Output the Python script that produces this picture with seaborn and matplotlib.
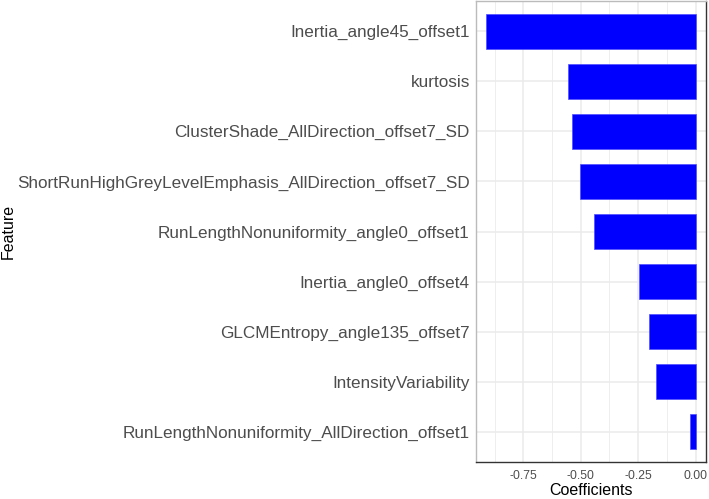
import matplotlib
matplotlib.use("Agg")
import matplotlib.pyplot as plt
import seaborn as sns
import pandas as pd

features = [
    "Inertia_angle45_offset1",
    "kurtosis",
    "ClusterShade_AllDirection_offset7_SD",
    "ShortRunHighGreyLevelEmphasis_AllDirection_offset7_SD",
    "RunLengthNonuniformity_angle0_offset1",
    "Inertia_angle0_offset4",
    "GLCMEntropy_angle135_offset7",
    "IntensityVariability",
    "RunLengthNonuniformity_AllDirection_offset1",
]
coefficients = [-0.910, -0.555, -0.537, -0.501, -0.444, -0.247, -0.202, -0.171, -0.025]
x_ticks = [-0.75, -0.50, -0.25, 0.00]
x_minor = [-0.875, -0.625, -0.375, -0.125]

df = pd.DataFrame({"Feature": features, "Coefficients": coefficients})

sns.set_theme(style="white")
plt.rcParams["font.family"] = ["Liberation Sans", "DejaVu Sans"]

fig = plt.figure(figsize=(7.09, 4.99), dpi=100)
ax = fig.add_axes([0.6714, 0.0741, 0.3244, 0.9239])

sns.barplot(data=df, x="Coefficients", y="Feature", order=features, orient="h",
            color="#0000FF", saturation=1, width=0.7, edgecolor="#4D4DFF",
            linewidth=0.5, ax=ax, zorder=2)

# ggplot-ish expansion of 5%
lo, hi = min(coefficients + [0]), max(coefficients + [0])
pad = (hi - lo) * 0.05
ax.set_xlim(lo - pad, hi + pad)
ax.set_ylim(len(features) - 1 + 0.6, -0.6)
ax.set_xticks(x_ticks)
ax.set_xticklabels([f"{v:.2f}" for v in x_ticks])
ax.set_xticks(x_minor, minor=True)

ax.grid(True, which="major", axis="both", color="#EBEBEB", linewidth=1.1, zorder=0)
ax.grid(True, which="minor", axis="x", color="#EBEBEB", linewidth=0.6, zorder=0)
ax.set_axisbelow(True)

for name, s in ax.spines.items():
    s.set_visible(True)
    s.set_linewidth(1.0)
    s.set_color("#333333" if name in ("bottom", "right") else "#BBBBBB")

ax.tick_params(axis="both", which="major", direction="out", length=3, width=0.9,
               color="#333333")
ax.tick_params(axis="y", labelsize=12.3, labelcolor="#4D4D4D", pad=1.5)
ax.tick_params(axis="x", labelsize=8.8, labelcolor="#4D4D4D", pad=2.5)
ax.tick_params(axis="x", which="minor", length=0)
ax.set_xlabel("Coefficients", fontsize=11.5, color="black", labelpad=1)
ax.set_ylabel("Feature", fontsize=11.5, color="black")
ax.yaxis.set_label_coords(-2.0, 0.5)

fig.savefig("out.png", dpi=100)
